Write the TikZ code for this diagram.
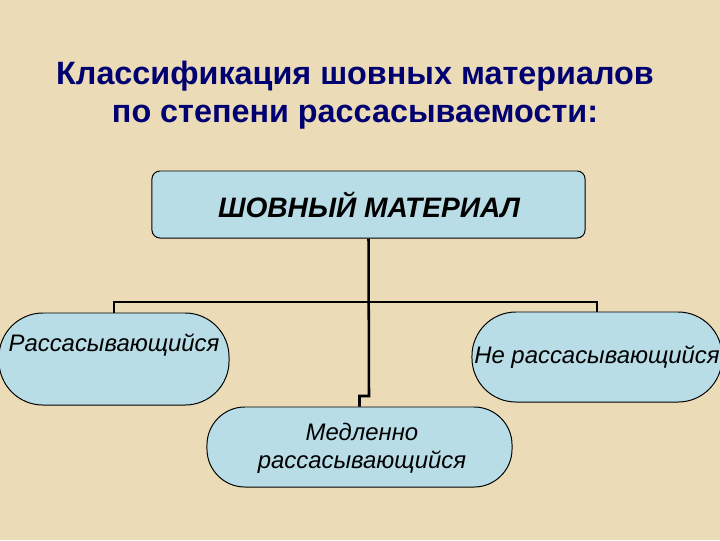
\documentclass[tikz,border=0pt]{standalone}
\usepackage{fontspec}
\setmainfont{Liberation Sans}
\usetikzlibrary{positioning}
\definecolor{parchment}{RGB}{235,219,183}
\definecolor{boxblue}{RGB}{185,221,230}
\definecolor{titleblue}{RGB}{0,0,112}
\tikzset{
  box/.style={draw=black, fill=boxblue, line width=0.7pt, inner sep=0pt},
  caption/.style={font=\fontsize{17}{20}\selectfont\itshape, align=center},
  link/.style={draw=black, line width=1.8pt},
}

\begin{document}
\begin{tikzpicture}[x=0.025cm, y=-0.025cm]
    % 1. Фон
    \fill[parchment] (0,0) rectangle (720,540);
    \useasboundingbox (0,0) rectangle (720,540);

    % 2. Заголовок
    \node[titleblue, font=\fontsize{23}{27.5}\selectfont\bfseries, align=center] (title) at (355,95)
        {Классификация шовных материалов\\по степени рассасываемости:};

    % 3. Блоки
    \node[box, rounded corners=0.2cm, minimum width=10.825cm, minimum height=1.675cm] (material) at (368.5,204.5) {};
    \node[box, rounded corners=1.1cm, minimum width=5.75cm, minimum height=2.3cm] (absorb) at (114,359) {};
    \node[box, rounded corners=1.1cm, minimum width=6.25cm, minimum height=2.25cm] (nonabsorb) at (597,357) {};
    \node[box, rounded corners=0.95cm, minimum width=7.625cm, minimum height=2cm] (slow) at (359.5,447) {};

    % 4. Надписи в блоках
    \node[font=\fontsize{20}{24}\selectfont\bfseries\itshape] (materialtext) at (369,205) {ШОВНЫЙ МАТЕРИАЛ};
    \node[caption] (absorbtext) at (114,345) {Рассасывающийся};
    \node[caption] (nonabsorbtext) at (597,357) {Не рассасывающийся};
    \node[caption] (slowtext) at (362,448) {Медленно\\рассасывающийся};

    % 5. Соединительные линии
    \coordinate (hub) at (369,302);
    \coordinate (bend) at (369,396);
    \draw[link] (material.south) -- (bend) -| (slow.north);
    \draw[link] (absorb.north) -- (absorb.north |- hub) -- (nonabsorb.north |- hub) -- (nonabsorb.north);
\end{tikzpicture}
\end{document}
